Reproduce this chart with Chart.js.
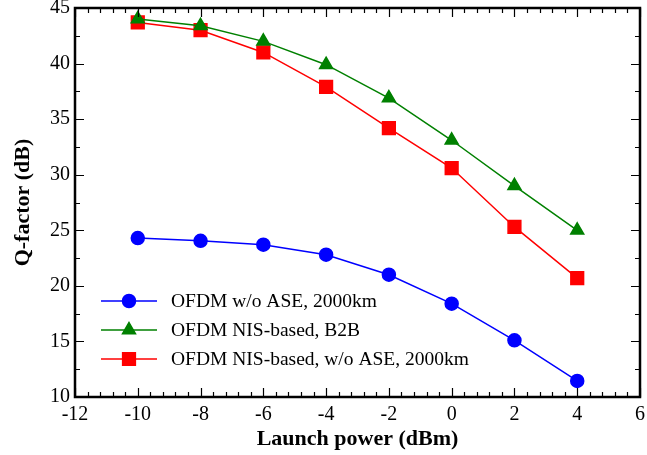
<!DOCTYPE html>
<html>
<head>
<meta charset="utf-8">
<script src="https://cdn.jsdelivr.net/npm/chart.js@4.4.0/dist/chart.umd.min.js"></script>
<style>
  html, body { margin: 0; padding: 0; background: #fff; }
  #wrap { width: 647px; height: 455px; }
</style>
</head>
<body>
<div id="wrap"><canvas id="qChart" width="647" height="455"></canvas></div>
<script>
const launchPower = [-10, -8, -6, -4, -2, 0, 2, 4];
const ofdmNoAse = [24.3, 24.05, 23.7, 22.8, 21.0, 18.4, 15.1, 11.45];
const nisB2B = [44.0, 43.4, 42.0, 39.9, 36.9, 33.1, 29.0, 25.0];
const nisNoAse = [43.7, 43.0, 41.0, 37.9, 34.2, 30.6, 25.3, 20.7];

const seriesLabels = ['OFDM w/o ASE, 2000km', 'OFDM NIS-based, B2B', 'OFDM NIS-based, w/o ASE, 2000km'];

const FONT = '"Liberation Serif", "Times New Roman", serif';

function pts(ys) {
    return launchPower.map((x, i) => ({ x: x, y: ys[i] }));
}

// frame + inward ticks on all four sides
const frameTicks = {
    id: 'frameTicks',
    afterDatasetsDraw(chart) {
        const ctx = chart.ctx;
        const a = chart.chartArea;
        const xs = chart.scales.x, ys = chart.scales.y;
        ctx.save();
        ctx.strokeStyle = '#000';
        ctx.lineWidth = 1.2;
        for (let v = -12; v <= 6.001; v += 0.4) {
            const px = Math.round(xs.getPixelForValue(v)) + 0.5;
            const major = Math.abs(v / 2 - Math.round(v / 2)) < 0.01;
            const len = major ? 9 : 5;
            ctx.beginPath();
            ctx.moveTo(px, a.bottom); ctx.lineTo(px, a.bottom - len);
            ctx.moveTo(px, a.top); ctx.lineTo(px, a.top + len);
            ctx.stroke();
        }
        for (let v = 10; v <= 45.001; v += 2.5) {
            const py = Math.round(ys.getPixelForValue(v)) + 0.5;
            const major = Math.abs(v / 5 - Math.round(v / 5)) < 0.01;
            const len = major ? 9 : 5;
            ctx.beginPath();
            ctx.moveTo(a.left, py); ctx.lineTo(a.left + len, py);
            ctx.moveTo(a.right, py); ctx.lineTo(a.right - len, py);
            ctx.stroke();
        }
        ctx.lineWidth = 2.5;
        ctx.strokeRect(a.left, a.top, a.right - a.left, a.bottom - a.top);
        ctx.restore();
    }
};

// legend drawn as line + marker, like the original figure
const lineLegend = {
    id: 'lineLegend',
    afterDraw(chart) {
        const ctx = chart.ctx;
        ctx.save();
        chart.data.datasets.forEach((ds, i) => {
            const y = 301 + i * 29;
            ctx.strokeStyle = ds.borderColor;
            ctx.lineWidth = 1.5;
            ctx.beginPath();
            ctx.moveTo(101, y); ctx.lineTo(157, y);
            ctx.stroke();
            Chart.helpers.drawPoint(ctx, {
                pointStyle: ds.pointStyle,
                radius: ds.pointRadius,
                borderWidth: 1
            }, 129, y);
            ctx.fillStyle = ds.pointBackgroundColor;
            ctx.fill();
            ctx.fillStyle = '#000';
            ctx.font = '19.5px ' + FONT;
            ctx.textBaseline = 'middle';
            ctx.fillText(ds.label, 171, y + 1);
        });
        ctx.restore();
    }
};

const ctx = document.getElementById('qChart').getContext('2d');
const qChart = new Chart(ctx, {
    type: 'line',
    data: {
        datasets: [
            {
                label: seriesLabels[0],
                data: pts(ofdmNoAse),
                borderColor: '#0000ff',
                backgroundColor: '#0000ff',
                pointBackgroundColor: '#0000ff',
                pointBorderColor: '#0000ff',
                pointStyle: 'circle',
                pointRadius: 6.5,
                borderWidth: 1.5
            },
            {
                label: seriesLabels[1],
                data: pts(nisB2B),
                borderColor: '#008000',
                backgroundColor: '#008000',
                pointBackgroundColor: '#008000',
                pointBorderColor: '#008000',
                pointStyle: 'triangle',
                pointRadius: 7.5,
                borderWidth: 1.5
            },
            {
                label: seriesLabels[2],
                data: pts(nisNoAse),
                borderColor: '#ff0000',
                backgroundColor: '#ff0000',
                pointBackgroundColor: '#ff0000',
                pointBorderColor: '#ff0000',
                pointStyle: 'rect',
                pointRadius: 9,
                borderWidth: 1.5
            }
        ]
    },
    options: {
        responsive: false,
        animation: false,
        devicePixelRatio: 1,
        layout: { autoPadding: false, padding: { left: 0, right: 7, top: 8, bottom: 0 } },
        plugins: {
            legend: { display: false },
            tooltip: { enabled: false }
        },
        scales: {
            x: {
                type: 'linear',
                min: -12,
                max: 6,
                grid: { display: false, drawTicks: false },
                border: { display: false },
                ticks: {
                    stepSize: 2,
                    padding: 0,
                    color: '#000',
                    font: { family: FONT, size: 20, lineHeight: 1.8 }
                },
                title: {
                    display: true,
                    text: 'Launch power (dBm)',
                    color: '#000',
                    padding: { top: 0, bottom: 2 },
                    font: { family: FONT, size: 22, weight: 'bold' }
                },
                afterFit(scale) {
                    scale.height = 58;
                    scale.paddingLeft = 0;
                    scale.paddingRight = 0;
                }
            },
            y: {
                min: 10,
                max: 45,
                grid: { display: false, drawTicks: false },
                border: { display: false },
                ticks: {
                    stepSize: 5,
                    padding: 5,
                    color: '#000',
                    font: { family: FONT, size: 20 }
                },
                title: {
                    display: true,
                    text: 'Q-factor (dB)',
                    color: '#000',
                    padding: { top: 10, bottom: 0 },
                    font: { family: FONT, size: 22, weight: 'bold' }
                },
                afterFit(scale) {
                    scale.width = 75;
                    scale.paddingTop = 0;
                    scale.paddingBottom = 0;
                }
            }
        }
    },
    plugins: [frameTicks, lineLegend]
});
</script>
</body>
</html>
